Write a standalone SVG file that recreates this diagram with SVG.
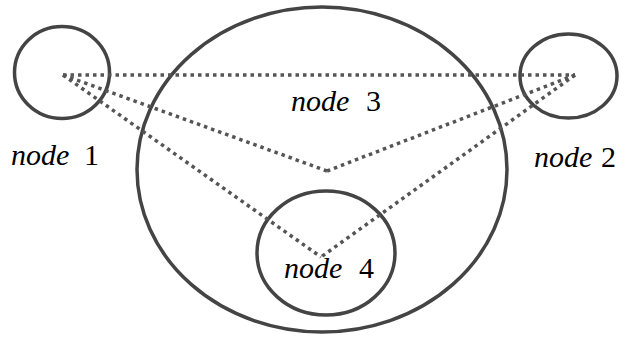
<svg xmlns="http://www.w3.org/2000/svg" width="644" height="337" viewBox="0 0 644 337">
<defs>
<style>
.n{fill:none;stroke:#444;stroke-width:3.5}
.e{fill:none;stroke:#555;stroke-width:3.5;stroke-dasharray:3.5 4}
</style>
</defs>
<rect width="644" height="337" fill="#fff"/>
<g id="node3">
<ellipse class="n" cx="322" cy="169.5" rx="185" ry="162.5"/>
<text x="291" y="111" font-family="Liberation Serif" font-size="30" font-style="italic">node</text>
<text x="366" y="111" font-family="Liberation Serif" font-size="30">3</text>
</g>
<g id="node4">
<ellipse class="n" cx="326" cy="253" rx="69" ry="62"/>
<text x="284" y="278" font-family="Liberation Serif" font-size="30" font-style="italic">node</text>
<text x="359" y="278" font-family="Liberation Serif" font-size="30">4</text>
</g>
<g id="node1">
<ellipse class="n" cx="62" cy="72.5" rx="47.5" ry="46"/>
<text x="11" y="165" font-family="Liberation Serif" font-size="30" font-style="italic">node</text>
<text x="84" y="165" font-family="Liberation Serif" font-size="30">1</text>
</g>
<g id="node2">
<ellipse class="n" cx="568.5" cy="76" rx="48.5" ry="42"/>
<text x="534" y="167" font-family="Liberation Serif" font-size="30" font-style="italic">node</text>
<text x="601" y="167" font-family="Liberation Serif" font-size="30">2</text>
</g>
<g id="connectors">
<line class="e" x1="63" y1="75" x2="575" y2="75"/>
<line class="e" x1="63" y1="75" x2="327" y2="171"/>
<line class="e" x1="63" y1="75" x2="321" y2="257"/>
<line class="e" x1="575" y1="75" x2="327" y2="171"/>
<line class="e" x1="575" y1="75" x2="321" y2="257"/>
</g>
</svg>
